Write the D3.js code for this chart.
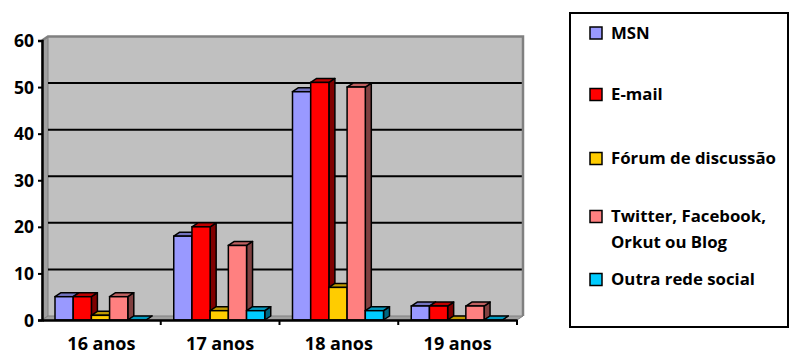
<!DOCTYPE html>
<html>
<head>
<meta charset="utf-8">
<script src="https://cdn.jsdelivr.net/npm/d3@7/dist/d3.min.js"></script>
<style>
  html, body { margin: 0; padding: 0; background: #fff; }
  svg { display: block; }
  text { font-family: "Open Sans", "Liberation Sans", sans-serif; font-weight: bold; fill: #000; }
</style>
</head>
<body>
<svg id="chart" width="790" height="354"></svg>
<script>
// Age groups and the communication channel series
const categories = ["16 anos", "17 anos", "18 anos", "19 anos"];
const seriesNames = ["MSN", "E-mail", "Fórum de discussão", "Twitter, Facebook, Orkut ou Blog", "Outra rede social"];
const legendLines = [["MSN"], ["E-mail"], ["Fórum de discussão"], ["Twitter, Facebook,", "Orkut ou Blog"], ["Outra rede social"]];
const seriesColors = ["#9999FF", "#FF0000", "#FFCC00", "#FF8080", "#00CCFF"];

const msn     = [5, 18, 49, 3];
const email   = [5, 20, 51, 3];
const forum   = [1, 2, 7, 0];
const twitter = [5, 16, 50, 3];
const outra   = [0, 2, 2, 0];
const seriesValues = [msn, email, forum, twitter, outra];

const yTicks = [0, 10, 20, 30, 40, 50, 60];

const svg = d3.select("#chart");

// Plot geometry
const x0 = 42, x1 = 517, yBase = 320, yTop = 40.5;
const dx = 6, dy = -4; // 3D depth offset

const x = d3.scaleBand().domain(categories).range([x0, x1]).paddingInner(0).paddingOuter(0);
const xs = d3.scaleBand().domain(seriesNames).range([13, 104]).padding(0);
const y = d3.scaleLinear().domain([0, 60]).range([yBase, yTop]);

function shade(c, k) {
  const r = d3.rgb(c);
  return d3.rgb(Math.round(r.r * k), Math.round(r.g * k), Math.round(r.b * k)).toString();
}

const g = svg.append("g");

// Back wall
g.append("rect")
  .attr("x", x0 + dx).attr("y", yTop + dy)
  .attr("width", x1 - x0).attr("height", yBase - yTop)
  .attr("fill", "#C0C0C0");

// Left side wall
g.append("path")
  .attr("d", `M${x0},${yTop} L${x0 + dx},${yTop + dy} L${x0 + dx},${yBase + dy} L${x0},${yBase} Z`)
  .attr("fill", "#A0A0A0").attr("stroke", "#808080").attr("stroke-width", 1);

// Floor
g.append("path")
  .attr("d", `M${x0},${yBase} L${x1},${yBase} L${x1 + dx},${yBase + dy} L${x0 + dx},${yBase + dy} Z`)
  .attr("fill", "#A0A0A0").attr("stroke", "#808080").attr("stroke-width", 1);

// Gridlines on back wall
g.selectAll(".grid")
  .data(yTicks.filter(d => d > 0 && d < 60))
  .enter().append("line")
  .attr("x1", x0 + dx).attr("x2", x1 + dx)
  .attr("y1", d => y(d) + dy).attr("y2", d => y(d) + dy)
  .attr("stroke", "#000").attr("stroke-width", 2);

// Top and right border of back wall
g.append("path")
  .attr("d", `M${x0},${yTop} L${x0 + dx},${yTop + dy} L${x1 + dx},${yTop + dy} L${x1 + dx},${yBase + dy}`)
  .attr("fill", "none").attr("stroke", "#808080").attr("stroke-width", 2.5);

// 3D bars
categories.forEach((cat, ci) => {
  seriesNames.forEach((s, si) => {
    const v = seriesValues[si][ci];
    const col = seriesColors[si];
    const bx = x(cat) + xs(s);
    const bw = xs.bandwidth();
    const by = y(v);
    const bg = g.append("g");
    // side face
    bg.append("path")
      .attr("d", `M${bx + bw},${by} L${bx + bw + dx},${by + dy} L${bx + bw + dx},${yBase + dy} L${bx + bw},${yBase} Z`)
      .attr("fill", shade(col, 0.5)).attr("stroke", "#000").attr("stroke-width", 1.5).attr("stroke-linejoin", "round");
    // top face
    bg.append("path")
      .attr("d", `M${bx},${by} L${bx + dx},${by + dy} L${bx + bw + dx},${by + dy} L${bx + bw},${by} Z`)
      .attr("fill", shade(col, 0.75)).attr("stroke", "#000").attr("stroke-width", 1.5).attr("stroke-linejoin", "round");
    // front face
    if (v > 0) {
      bg.append("rect")
        .attr("x", bx).attr("y", by)
        .attr("width", bw).attr("height", yBase - by)
        .attr("fill", col).attr("stroke", "#000").attr("stroke-width", 1.5);
    }
  });
});

// Y axis
const yAxis = d3.axisLeft(y).tickValues(yTicks).tickSize(4).tickPadding(4);
const ya = svg.append("g").attr("transform", `translate(${x0},0)`).call(yAxis);
ya.select(".domain").attr("stroke", "#000").attr("stroke-width", 2.5);
ya.selectAll(".tick line").attr("stroke", "#000").attr("stroke-width", 2);
ya.selectAll(".tick text")
  .style("font-family", "'Open Sans', sans-serif").style("font-weight", "bold")
  .style("font-size", "17.5px").attr("fill", "#000").attr("dy", "0.35em");

// X axis
const xAxis = d3.axisBottom(x).tickSize(0).tickPadding(17);
const xa = svg.append("g").attr("transform", `translate(0,${yBase})`).call(xAxis);
xa.select(".domain").attr("stroke", "#000").attr("stroke-width", 2.5);
xa.selectAll(".tick text")
  .style("font-family", "'Open Sans', sans-serif").style("font-weight", "bold")
  .style("font-size", "18px").attr("fill", "#000");
// boundary tick marks between categories
xa.selectAll(".bound")
  .data(categories.map(c => x(c) + x.bandwidth()))
  .enter().append("line")
  .attr("x1", d => d).attr("x2", d => d)
  .attr("y1", 0).attr("y2", 5)
  .attr("stroke", "#000").attr("stroke-width", 2);

// Legend
const legend = svg.append("g");
legend.append("rect")
  .attr("x", 570).attr("y", 13).attr("width", 218).attr("height", 314)
  .attr("fill", "#fff").attr("stroke", "#000").attr("stroke-width", 2);

const legendBaselines = [38.5, 100, 164, 222, 285];
seriesNames.forEach((s, i) => {
  const base = legendBaselines[i];
  legend.append("rect")
    .attr("x", 590).attr("y", base - 11.5).attr("width", 12).attr("height", 12)
    .attr("fill", seriesColors[i]).attr("stroke", "#000").attr("stroke-width", 1.5);
  const t = legend.append("text")
    .attr("x", 611).attr("y", base)
    .style("font-size", "16.8px");
  legendLines[i].forEach((ln, j) => {
    t.append("tspan").attr("x", 611).attr("dy", j === 0 ? 0 : 26).text(ln);
  });
});
</script>
</body>
</html>
